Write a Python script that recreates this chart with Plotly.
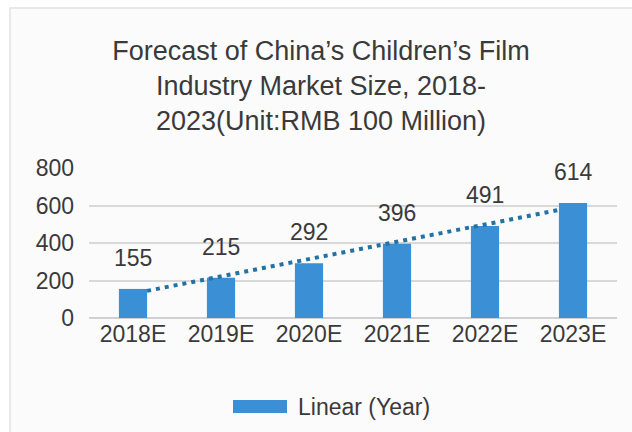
import numpy as np
import plotly.graph_objects as go

categories = ["2018E", "2019E", "2020E", "2021E", "2022E", "2023E"]
values = [155, 215, 292, 396, 491, 614]
y_ticks = [0, 200, 400, 600, 800]
title_text = "Forecast of China’s Children’s Film<br>Industry Market Size, 2018-<br>2023(Unit:RMB 100 Million)"
legend_label = "Linear (Year)"

BAR = "#3b8fd5"
TXT = "#3a3a3a"
FONT = "Liberation Sans, Arial, sans-serif"

W, H = 632, 432
L, R, T, B = 89, 15, 168, 114
PW, PH = W - L - R, H - T - B

def px(x):
    return (x - L) / PW

def py(y):
    return (H - B - y) / PH

xs = list(range(len(categories)))
slope, intercept = np.polyfit(xs, values, 1)
tx = [0.16, 4.83]
ty = [intercept + slope * v for v in tx]

fig = go.Figure()
fig.add_trace(go.Bar(x=xs, y=values, marker=dict(color=BAR, line=dict(width=0)),
                     width=0.32, showlegend=False, hoverinfo="skip"))
fig.add_trace(go.Scatter(x=tx, y=ty, mode="lines",
                         line=dict(color="#2471a3", width=4, dash="4px,5px"),
                         showlegend=False, hoverinfo="skip"))

for i, v in enumerate(values):
    fig.add_annotation(x=xs[i], y=v, text=str(v), showarrow=False, yshift=31,
                       font=dict(size=23, color=TXT, family=FONT))

# legend (swatch + label)
fig.add_shape(type="rect", xref="paper", yref="paper",
              x0=px(233), x1=px(287), y0=py(413), y1=py(400),
              fillcolor=BAR, line=dict(width=0))
fig.add_annotation(xref="paper", yref="paper", x=px(296), y=py(407), text=legend_label,
                   showarrow=False, xanchor="left", yanchor="middle",
                   font=dict(size=23, color=TXT, family=FONT))

# frame
fig.add_shape(type="rect", xref="paper", yref="paper", layer="below",
              x0=px(10), x1=px(650), y0=py(450), y1=py(8),
              fillcolor="#fbfbfb", line=dict(color="#e2e2e2", width=1.5))

fig.update_layout(
    width=W, height=H,
    margin=dict(l=L, r=R, t=T, b=B),
    paper_bgcolor="white", plot_bgcolor="rgba(0,0,0,0)",
    title=dict(text=title_text, x=321 / W, xref="container", xanchor="center",
               y=1 - 60 / H, yanchor="top",
               font=dict(size=27, color=TXT, family=FONT)),
    font=dict(family=FONT, color=TXT),
    bargap=0.68,
)
fig.update_xaxes(tickmode="array", tickvals=xs, ticktext=categories, range=[-0.5, 5.5],
                 showgrid=False, zeroline=False, showline=False, ticks="",
                 tickfont=dict(size=23, color=TXT, family=FONT))
fig.update_yaxes(range=[0, 800], tickvals=y_ticks, showgrid=True, gridcolor="#d9d9d9",
                 gridwidth=1.5, zeroline=True, zerolinecolor="#d0d0d0", zerolinewidth=1.5,
                 showline=False, ticks="", ticklabelstandoff=14,
                 tickfont=dict(size=23, color=TXT, family=FONT))

fig.write_html("out.html")
